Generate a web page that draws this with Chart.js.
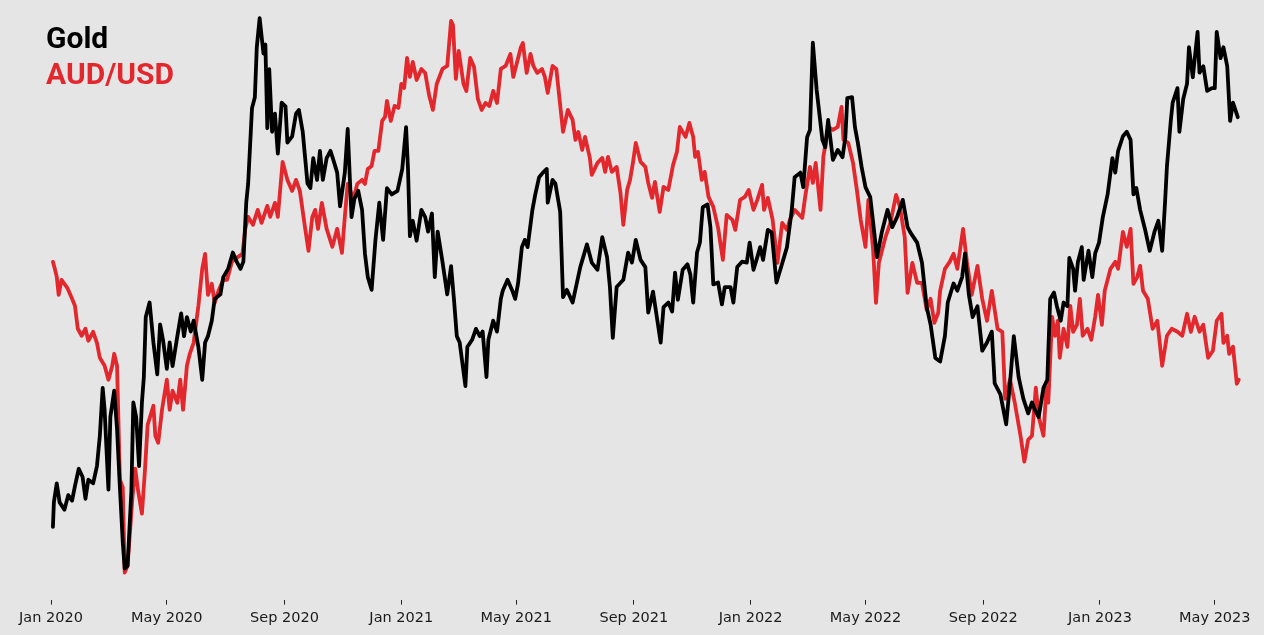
<!DOCTYPE html>
<html>
<head>
<meta charset="utf-8">
<script src="https://cdn.jsdelivr.net/npm/chart.js@4.4.0/dist/chart.umd.min.js"></script>
<style>
  html, body { margin: 0; padding: 0; background: #e5e5e6; }
  #wrap { position: relative; width: 1264px; height: 635px; }
  .legend { position: absolute; left: 46px; top: 20px; font-family: Roboto, sans-serif; font-weight: 700; font-size: 30px; line-height: 36px; }
</style>
</head>
<body>
<div id="wrap">
  <canvas id="chart" width="1264" height="635"></canvas>
  <div class="legend">
    <div style="color:#000">Gold</div>
    <div style="color:#e2272d">AUD/USD</div>
  </div>
</div>
<script>
// x values are days since 1 Jan 2020
const tickDays = [0, 121, 244, 366, 486, 609, 731, 851, 974, 1096, 1216];
const tickLabels = ['Jan 2020', 'May 2020', 'Sep 2020', 'Jan 2021', 'May 2021', 'Sep 2021',
                    'Jan 2022', 'May 2022', 'Sep 2022', 'Jan 2023', 'May 2023'];

// Gold, USD per ounce
const goldDays = [2,3,6,9,14,18,22,25,29,33,36,39,44,48,51,54,56,60,62,66,69,72,75,77,80,84,86,89,92,95,97,99,103,107,111,114,117,121,124,127,132,136,139,142,146,149,154,158,161,164,168,171,177,180,185,190,194,198,201,204,206,210,213,215,218,222,224,226,228,231,234,237,241,245,247,252,256,259,263,268,271,274,278,281,284,288,292,295,299,302,307,310,314,317,321,325,328,331,335,339,343,347,351,356,362,367,371,373,375,378,382,387,391,394,398,401,404,409,414,418,421,424,427,433,435,440,444,448,451,455,457,462,466,470,472,477,482,485,488,492,495,498,503,506,510,514,518,519,524,527,532,535,539,545,553,560,565,571,576,581,584,587,591,598,603,607,611,616,621,624,629,633,637,640,645,649,652,655,660,665,668,671,675,678,681,686,689,692,697,701,704,710,713,717,722,727,730,734,738,741,744,749,753,758,762,769,774,777,783,786,790,793,796,800,806,809,812,817,822,827,830,832,837,840,843,847,851,856,859,863,868,874,879,884,890,895,898,905,910,915,919,924,929,934,937,943,947,952,955,959,963,968,973,978,983,986,992,998,1002,1006,1011,1016,1021,1025,1028,1032,1037,1041,1044,1048,1051,1055,1058,1062,1064,1068,1070,1073,1077,1079,1084,1088,1091,1095,1099,1104,1109,1112,1115,1120,1124,1128,1131,1134,1138,1143,1148,1153,1157,1161,1164,1166,1170,1172,1177,1179,1183,1187,1189,1193,1198,1200,1204,1208,1213,1216,1218,1222,1225,1229,1232,1235,1240];
const goldPrice = [1505,1532,1553,1532,1524,1540,1534,1550,1569,1560,1536,1557,1553,1572,1605,1658,1634,1546,1626,1655,1613,1548,1488,1459,1462,1545,1642,1626,1572,1642,1670,1736,1752,1708,1673,1728,1711,1679,1708,1682,1715,1740,1715,1736,1720,1732,1703,1667,1708,1715,1732,1756,1761,1780,1789,1807,1797,1789,1797,1862,1883,1966,1978,2033,2065,2026,2036,1944,2009,1940,1960,1916,1972,1968,1928,1935,1960,1964,1940,1883,1878,1911,1887,1919,1887,1911,1919,1909,1895,1858,1895,1943,1846,1866,1875,1854,1806,1780,1766,1821,1862,1821,1878,1871,1875,1899,1945,1899,1825,1842,1820,1854,1846,1830,1850,1780,1830,1797,1761,1792,1756,1715,1708,1660,1703,1711,1723,1715,1720,1670,1711,1732,1720,1756,1765,1777,1765,1756,1773,1813,1821,1813,1854,1871,1890,1895,1899,1862,1887,1883,1852,1758,1766,1752,1791,1816,1796,1788,1824,1802,1769,1713,1769,1777,1807,1796,1821,1799,1791,1741,1764,1736,1708,1747,1752,1742,1785,1755,1788,1794,1783,1752,1807,1818,1857,1860,1835,1772,1774,1750,1769,1769,1752,1791,1797,1796,1818,1788,1802,1813,1799,1832,1829,1774,1788,1813,1854,1890,1895,1879,1934,1942,2038,1986,1931,1923,1953,1909,1920,1912,1934,1977,1978,1945,1928,1901,1879,1868,1840,1802,1829,1854,1835,1846,1865,1835,1829,1818,1796,1747,1728,1691,1687,1715,1752,1773,1765,1780,1806,1761,1736,1748,1699,1708,1720,1663,1651,1618,1663,1715,1670,1646,1630,1642,1634,1626,1658,1667,1756,1763,1748,1732,1752,1748,1801,1789,1765,1797,1813,1777,1809,1780,1806,1818,1846,1871,1911,1895,1919,1935,1940,1931,1871,1878,1854,1833,1809,1830,1842,1809,1862,1902,1952,1972,1988,1940,1976,1993,2033,2000,2050,2005,2012,1985,1988,1988,2050,2021,2033,2012,1952,1972,1956];

// AUD/USD exchange rate
const audDays = [2,4,6,8,11,17,22,25,28,32,36,39,44,48,51,56,60,64,66,69,72,75,77,80,85,88,91,95,98,101,107,109,112,116,121,124,127,132,135,138,142,145,149,154,158,161,164,168,171,175,180,184,189,194,200,203,206,211,216,220,226,229,234,237,242,247,252,256,260,265,269,273,276,279,283,288,294,299,304,307,310,316,320,325,328,331,335,338,342,346,349,351,355,359,363,366,369,372,375,378,382,387,391,395,399,403,409,414,418,420,423,426,431,434,438,442,446,450,454,458,462,466,470,475,480,483,487,491,493,497,501,504,508,513,516,519,524,528,532,535,540,545,548,551,555,558,563,565,571,576,579,582,586,591,595,598,602,605,608,611,616,621,624,628,631,636,640,645,650,654,657,663,667,671,673,676,680,683,687,692,697,702,706,712,715,720,725,729,734,738,743,745,749,754,759,764,769,772,777,785,788,793,796,799,804,807,812,817,822,826,828,833,838,842,846,851,854,859,862,865,872,877,883,887,892,895,900,905,910,915,919,923,927,929,934,939,943,947,953,957,962,968,973,978,983,989,994,997,1002,1007,1013,1017,1021,1025,1029,1032,1037,1040,1042,1046,1049,1052,1054,1058,1062,1065,1068,1072,1075,1078,1083,1087,1091,1094,1098,1101,1107,1112,1115,1120,1124,1128,1131,1135,1138,1141,1146,1151,1156,1161,1166,1171,1177,1182,1187,1191,1195,1200,1204,1209,1214,1218,1223,1225,1229,1231,1235,1239,1241];
const audRate = [0.7022,0.6994,0.6962,0.6890,0.6950,0.6918,0.6874,0.6846,0.6754,0.6726,0.6754,0.6706,0.6742,0.6698,0.6638,0.6606,0.6550,0.6606,0.6654,0.6606,0.6150,0.6118,0.5778,0.5806,0.6074,0.6194,0.6106,0.6014,0.6178,0.6370,0.6446,0.6326,0.6298,0.6430,0.6550,0.6430,0.6506,0.6458,0.6550,0.6430,0.6606,0.6654,0.6698,0.6846,0.6994,0.7054,0.6890,0.6934,0.6858,0.6906,0.6950,0.6950,0.7022,0.7038,0.7054,0.7154,0.7202,0.7170,0.7230,0.7178,0.7246,0.7202,0.7258,0.7202,0.7422,0.7350,0.7306,0.7350,0.7306,0.7170,0.7066,0.7202,0.7230,0.7154,0.7258,0.7154,0.7082,0.7154,0.7058,0.7202,0.7334,0.7274,0.7334,0.7350,0.7334,0.7394,0.7406,0.7466,0.7466,0.7586,0.7602,0.7666,0.7586,0.7646,0.7638,0.7734,0.7718,0.7838,0.7762,0.7822,0.7750,0.7794,0.7778,0.7690,0.7630,0.7734,0.7794,0.7806,0.7986,0.7970,0.7754,0.7866,0.7734,0.7706,0.7838,0.7802,0.7674,0.7630,0.7658,0.7646,0.7706,0.7658,0.7794,0.7806,0.7854,0.7762,0.7822,0.7882,0.7898,0.7778,0.7854,0.7806,0.7778,0.7794,0.7762,0.7698,0.7806,0.7794,0.7650,0.7542,0.7630,0.7590,0.7510,0.7542,0.7470,0.7522,0.7438,0.7370,0.7418,0.7438,0.7382,0.7442,0.7382,0.7402,0.7298,0.7170,0.7310,0.7350,0.7418,0.7498,0.7422,0.7402,0.7338,0.7278,0.7342,0.7222,0.7322,0.7310,0.7410,0.7462,0.7562,0.7522,0.7578,0.7522,0.7442,0.7462,0.7350,0.7382,0.7282,0.7242,0.7158,0.7030,0.7210,0.7190,0.7150,0.7270,0.7282,0.7310,0.7230,0.7270,0.7330,0.7230,0.7278,0.7190,0.7018,0.7178,0.7150,0.7190,0.7230,0.7198,0.7282,0.7402,0.7338,0.7418,0.7230,0.7442,0.7562,0.7550,0.7562,0.7642,0.7510,0.7498,0.7418,0.7310,0.7190,0.7082,0.7270,0.7070,0.6858,0.7018,0.7122,0.7178,0.7290,0.7242,0.7122,0.6898,0.7018,0.6938,0.6938,0.6830,0.6874,0.6778,0.6818,0.6906,0.6994,0.7022,0.7054,0.6994,0.7154,0.7022,0.6890,0.7006,0.6874,0.6786,0.6906,0.6754,0.6742,0.6474,0.6550,0.6458,0.6326,0.6222,0.6310,0.6326,0.6518,0.6402,0.6326,0.6518,0.6458,0.6802,0.6726,0.6786,0.6638,0.6754,0.6682,0.6846,0.6742,0.6770,0.6874,0.6726,0.6754,0.6710,0.6802,0.6890,0.6770,0.6906,0.6994,0.7022,0.6994,0.7142,0.7082,0.7154,0.6934,0.6962,0.7006,0.6906,0.6874,0.6754,0.6786,0.6606,0.6726,0.6754,0.6742,0.6726,0.6814,0.6742,0.6802,0.6742,0.6770,0.6638,0.6666,0.6786,0.6814,0.6698,0.6726,0.6654,0.6682,0.6534,0.6550];

function toPoints(xs, ys) {
    const n = Math.min(xs.length, ys.length);
    const pts = [];
    for (let i = 0; i < n; i++) pts.push({ x: xs[i], y: ys[i] });
    return pts;
}

const ctx = document.getElementById('chart').getContext('2d');
new Chart(ctx, {
    type: 'line',
    data: {
        datasets: [
            {
                label: 'Gold',
                data: toPoints(goldDays, goldPrice),
                yAxisID: 'yGold',
                borderColor: '#000000',
                borderWidth: 3.8,
                borderJoinStyle: 'round',
                borderCapStyle: 'round',
                pointRadius: 0,
                tension: 0
            },
            {
                label: 'AUD/USD',
                data: toPoints(audDays, audRate),
                yAxisID: 'yAud',
                borderColor: '#e2272d',
                borderWidth: 3.8,
                borderJoinStyle: 'round',
                borderCapStyle: 'round',
                pointRadius: 0,
                tension: 0
            }
        ]
    },
    options: {
        responsive: false,
        animation: false,
        layout: { padding: { left: 20, right: 9, top: 10, bottom: 3 } },
        plugins: {
            legend: { display: false },
            tooltip: { enabled: false }
        },
        scales: {
            x: {
                type: 'linear',
                min: -32.4,
                max: 1258,
                border: { display: false },
                grid: { display: true, drawOnChartArea: false, drawTicks: true, tickLength: 5, color: '#222' },
                afterBuildTicks: function(axis) {
                    axis.ticks = tickDays.map(v => ({ value: v }));
                },
                ticks: {
                    autoSkip: false,
                    maxRotation: 0,
                    padding: 5,
                    color: '#1a1a1a',
                    font: { family: 'DejaVu Sans', size: 14.5 },
                    callback: function(value) {
                        const i = tickDays.indexOf(value);
                        return i >= 0 ? tickLabels[i] : '';
                    }
                }
            },
            yGold: { display: false, min: 1425, max: 2074 },
            yAud: { display: false, min: 0.567, max: 0.803 }
        }
    }
});
</script>
</body>
</html>
